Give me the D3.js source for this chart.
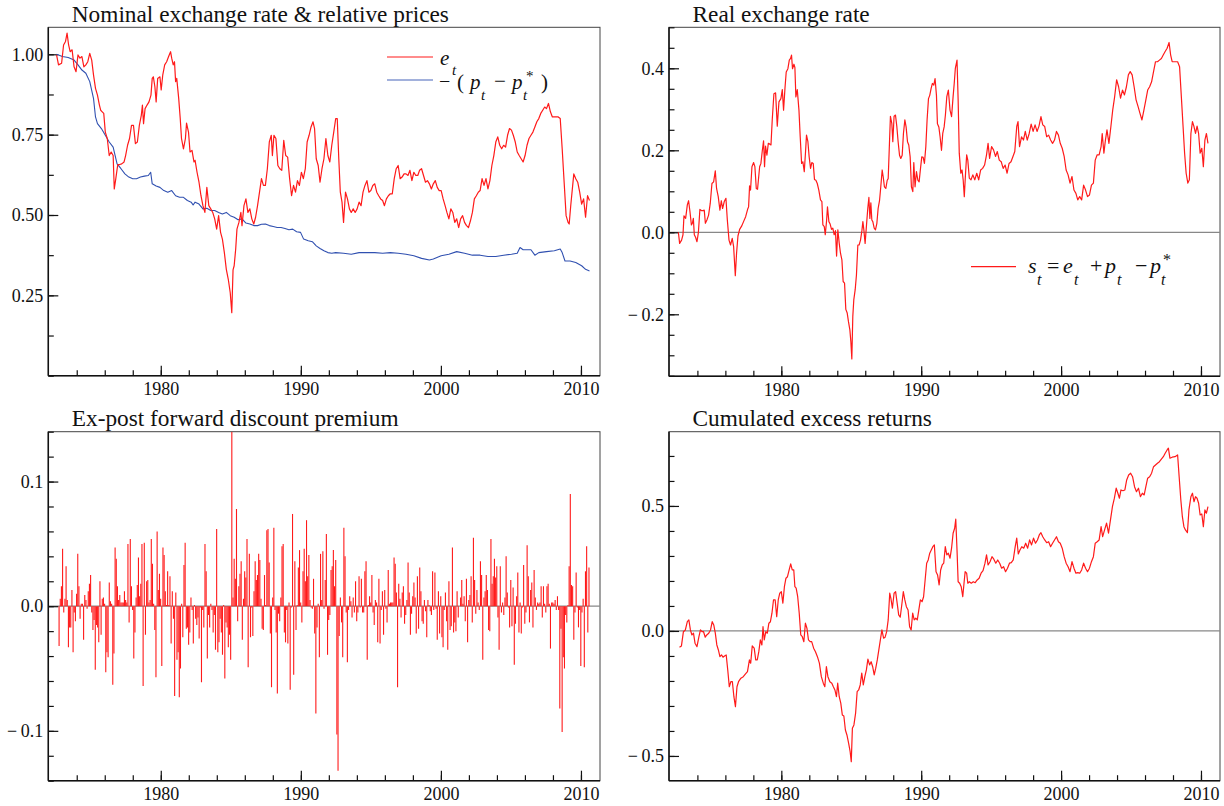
<!DOCTYPE html>
<html>
<head>
<meta charset="utf-8">
<script src="https://cdn.jsdelivr.net/npm/d3@7"></script>
<style>
  body { margin: 0; background: #fff; }
  text { font-family: "Liberation Serif", "Times New Roman", serif; fill: #111; }
</style>
</head>
<body>
<script>
// nominal exchange rate e_t  [year, value]
var nominalRate = [[1972.56,0.998],[1972.70,0.967],[1972.92,0.972],[1973.06,1.029],[1973.20,1.040],[1973.31,1.066],[1973.42,1.029],[1973.53,1.008],[1973.67,1.014],[1973.81,0.961],[1973.95,0.946],[1974.09,0.998],[1974.23,0.988],[1974.37,0.993],[1974.51,0.961],[1974.65,0.967],[1974.79,0.977],[1974.93,1.003],[1975.07,0.982],[1975.20,0.935],[1975.34,0.894],[1975.48,0.873],[1975.62,0.842],[1975.71,0.826],[1975.82,0.821],[1975.93,0.816],[1976.04,0.758],[1976.18,0.738],[1976.32,0.685],[1976.46,0.696],[1976.60,0.685],[1976.68,0.581],[1976.79,0.613],[1976.93,0.657],[1977.07,0.657],[1977.21,0.659],[1977.38,0.665],[1977.49,0.685],[1977.63,0.717],[1977.77,0.738],[1977.91,0.779],[1978.05,0.779],[1978.19,0.722],[1978.33,0.727],[1978.47,0.779],[1978.61,0.810],[1978.69,0.842],[1978.77,0.784],[1978.88,0.831],[1979.02,0.842],[1979.16,0.852],[1979.30,0.873],[1979.39,0.925],[1979.47,0.930],[1979.58,0.899],[1979.67,0.852],[1979.78,0.925],[1979.94,0.930],[1980.03,0.889],[1980.14,0.935],[1980.28,0.967],[1980.42,0.977],[1980.56,0.993],[1980.70,1.008],[1980.78,0.988],[1980.89,0.967],[1980.98,0.977],[1981.06,0.915],[1981.14,0.925],[1981.28,0.863],[1981.39,0.800],[1981.48,0.738],[1981.62,0.706],[1981.76,0.738],[1981.84,0.786],[1981.98,0.758],[1982.09,0.696],[1982.23,0.701],[1982.37,0.665],[1982.45,0.670],[1982.59,0.633],[1982.73,0.602],[1982.87,0.560],[1983.01,0.529],[1983.15,0.508],[1983.29,0.586],[1983.43,0.529],[1983.57,0.519],[1983.71,0.508],[1983.85,0.488],[1983.99,0.456],[1984.13,0.498],[1984.27,0.446],[1984.40,0.425],[1984.54,0.383],[1984.68,0.331],[1984.82,0.300],[1984.96,0.258],[1985.07,0.196],[1985.16,0.329],[1985.24,0.342],[1985.35,0.394],[1985.44,0.456],[1985.58,0.477],[1985.72,0.508],[1985.80,0.467],[1985.94,0.529],[1986.08,0.550],[1986.22,0.508],[1986.36,0.519],[1986.50,0.488],[1986.64,0.472],[1986.77,0.493],[1986.91,0.529],[1987.05,0.571],[1987.19,0.613],[1987.33,0.592],[1987.47,0.592],[1987.61,0.644],[1987.75,0.727],[1987.89,0.748],[1987.97,0.685],[1988.08,0.748],[1988.22,0.738],[1988.36,0.654],[1988.50,0.644],[1988.64,0.639],[1988.78,0.732],[1988.92,0.685],[1989.06,0.680],[1989.20,0.613],[1989.34,0.560],[1989.48,0.592],[1989.62,0.571],[1989.76,0.607],[1989.90,0.592],[1990.04,0.633],[1990.18,0.613],[1990.32,0.644],[1990.45,0.727],[1990.59,0.748],[1990.73,0.774],[1990.87,0.790],[1990.98,0.769],[1991.10,0.675],[1991.24,0.654],[1991.37,0.602],[1991.51,0.644],[1991.65,0.675],[1991.79,0.738],[1991.93,0.685],[1992.07,0.665],[1992.21,0.717],[1992.35,0.758],[1992.49,0.800],[1992.60,0.800],[1992.71,0.675],[1992.82,0.571],[1992.94,0.540],[1993.05,0.477],[1993.19,0.571],[1993.33,0.550],[1993.47,0.519],[1993.60,0.508],[1993.74,0.519],[1993.88,0.508],[1994.02,0.519],[1994.16,0.540],[1994.30,0.529],[1994.44,0.571],[1994.58,0.592],[1994.72,0.607],[1994.86,0.571],[1995.00,0.576],[1995.14,0.592],[1995.28,0.597],[1995.42,0.571],[1995.56,0.560],[1995.70,0.550],[1995.84,0.545],[1995.97,0.529],[1996.11,0.550],[1996.25,0.560],[1996.39,0.566],[1996.53,0.566],[1996.67,0.613],[1996.81,0.644],[1996.95,0.654],[1997.09,0.613],[1997.23,0.618],[1997.37,0.628],[1997.51,0.628],[1997.65,0.623],[1997.79,0.639],[1997.93,0.607],[1998.07,0.633],[1998.21,0.623],[1998.35,0.623],[1998.48,0.639],[1998.62,0.644],[1998.76,0.623],[1998.90,0.602],[1999.04,0.607],[1999.18,0.597],[1999.32,0.581],[1999.46,0.597],[1999.60,0.607],[1999.74,0.586],[1999.88,0.576],[2000.02,0.576],[2000.16,0.550],[2000.30,0.529],[2000.43,0.508],[2000.57,0.488],[2000.71,0.519],[2000.85,0.508],[2000.99,0.477],[2001.13,0.488],[2001.27,0.461],[2001.41,0.488],[2001.55,0.498],[2001.69,0.477],[2001.83,0.467],[2001.97,0.461],[2002.11,0.482],[2002.25,0.508],[2002.39,0.550],[2002.53,0.560],[2002.67,0.571],[2002.80,0.576],[2002.94,0.613],[2003.08,0.592],[2003.22,0.613],[2003.36,0.581],[2003.50,0.607],[2003.64,0.654],[2003.78,0.685],[2003.92,0.727],[2004.06,0.743],[2004.20,0.717],[2004.34,0.706],[2004.48,0.717],[2004.62,0.711],[2004.76,0.748],[2004.90,0.769],[2005.04,0.764],[2005.17,0.748],[2005.31,0.727],[2005.45,0.696],[2005.59,0.685],[2005.73,0.675],[2005.87,0.665],[2006.01,0.685],[2006.15,0.717],[2006.29,0.738],[2006.43,0.748],[2006.57,0.758],[2006.71,0.774],[2006.85,0.790],[2006.99,0.800],[2007.13,0.816],[2007.27,0.826],[2007.41,0.836],[2007.54,0.831],[2007.68,0.847],[2007.82,0.821],[2007.96,0.805],[2008.10,0.805],[2008.24,0.805],[2008.38,0.805],[2008.52,0.800],[2008.66,0.706],[2008.80,0.602],[2008.94,0.498],[2009.08,0.477],[2009.16,0.472],[2009.27,0.529],[2009.41,0.592],[2009.49,0.628],[2009.63,0.613],[2009.77,0.602],[2009.91,0.571],[2010.05,0.534],[2010.19,0.550],[2010.33,0.493],[2010.47,0.560],[2010.61,0.545]];

// -(p_t - p_t*)  [year, value]
var relPrices = [[1972.56,1.000],[1972.97,0.993],[1973.39,0.990],[1973.81,0.982],[1974.09,0.967],[1974.37,0.951],[1974.65,0.941],[1974.93,0.915],[1975.20,0.862],[1975.34,0.805],[1975.48,0.784],[1975.76,0.769],[1976.04,0.748],[1976.32,0.727],[1976.60,0.711],[1976.88,0.659],[1977.16,0.644],[1977.44,0.628],[1977.72,0.618],[1978.00,0.613],[1978.27,0.613],[1978.55,0.618],[1978.83,0.621],[1979.11,0.623],[1979.28,0.633],[1979.39,0.597],[1979.67,0.590],[1979.94,0.586],[1980.22,0.576],[1980.50,0.571],[1980.78,0.576],[1981.06,0.560],[1981.34,0.555],[1981.62,0.555],[1981.90,0.545],[1982.17,0.540],[1982.31,0.531],[1982.45,0.540],[1982.73,0.534],[1983.01,0.519],[1983.29,0.521],[1983.57,0.514],[1983.85,0.514],[1984.13,0.508],[1984.40,0.503],[1984.68,0.508],[1984.96,0.498],[1985.24,0.493],[1985.52,0.485],[1985.80,0.488],[1986.08,0.475],[1986.36,0.472],[1986.64,0.467],[1986.91,0.467],[1987.19,0.471],[1987.47,0.472],[1987.75,0.467],[1988.03,0.464],[1988.31,0.461],[1988.59,0.461],[1988.87,0.458],[1989.15,0.454],[1989.42,0.456],[1989.70,0.448],[1989.98,0.446],[1990.20,0.425],[1990.53,0.420],[1990.82,0.417],[1991.10,0.404],[1991.37,0.396],[1991.65,0.389],[1991.93,0.383],[1992.21,0.381],[1992.49,0.383],[1993.05,0.381],[1993.60,0.378],[1994.16,0.383],[1994.72,0.383],[1995.28,0.383],[1995.84,0.381],[1996.39,0.383],[1996.95,0.381],[1997.51,0.378],[1998.07,0.373],[1998.62,0.365],[1999.18,0.360],[1999.46,0.363],[2000.02,0.373],[2000.57,0.378],[2001.13,0.386],[2001.69,0.381],[2002.25,0.375],[2002.80,0.375],[2003.36,0.371],[2003.92,0.371],[2004.48,0.375],[2005.04,0.378],[2005.45,0.381],[2005.65,0.399],[2005.87,0.392],[2006.43,0.392],[2006.71,0.375],[2006.99,0.383],[2007.54,0.386],[2008.10,0.389],[2008.52,0.394],[2008.66,0.383],[2008.86,0.357],[2009.22,0.357],[2009.63,0.352],[2010.05,0.342],[2010.33,0.331],[2010.61,0.326]];

// real exchange rate s_t  [year, value]
var realRate = [[1972.64,0.000],[1972.73,-0.027],[1972.87,-0.019],[1972.97,-0.006],[1973.04,0.040],[1973.16,0.034],[1973.28,0.067],[1973.37,0.077],[1973.47,0.050],[1973.57,0.018],[1973.64,0.022],[1973.71,0.034],[1973.78,-0.006],[1973.87,-0.012],[1973.97,-0.023],[1974.07,-0.001],[1974.18,0.056],[1974.28,0.053],[1974.40,0.053],[1974.49,0.054],[1974.57,0.022],[1974.68,0.030],[1974.80,0.042],[1974.92,0.071],[1975.04,0.119],[1975.16,0.123],[1975.28,0.150],[1975.37,0.107],[1975.49,0.087],[1975.61,0.054],[1975.71,0.077],[1975.80,0.058],[1975.92,0.075],[1976.04,0.083],[1976.14,0.030],[1976.26,-0.019],[1976.37,-0.031],[1976.49,-0.015],[1976.59,-0.035],[1976.71,-0.106],[1976.80,-0.051],[1976.90,-0.009],[1977.02,0.007],[1977.16,0.015],[1977.30,0.026],[1977.45,0.038],[1977.59,0.056],[1977.66,0.062],[1977.73,0.113],[1977.80,0.103],[1977.90,0.160],[1978.02,0.170],[1978.11,0.160],[1978.21,0.107],[1978.30,0.105],[1978.45,0.160],[1978.54,0.168],[1978.64,0.199],[1978.73,0.223],[1978.80,0.160],[1978.87,0.210],[1978.97,0.188],[1979.07,0.217],[1979.18,0.215],[1979.26,0.213],[1979.35,0.274],[1979.47,0.338],[1979.59,0.340],[1979.71,0.259],[1979.83,0.318],[1979.97,0.326],[1980.07,0.348],[1980.16,0.298],[1980.26,0.351],[1980.35,0.391],[1980.47,0.399],[1980.57,0.420],[1980.66,0.424],[1980.73,0.432],[1980.80,0.399],[1980.90,0.410],[1980.97,0.402],[1981.04,0.330],[1981.14,0.348],[1981.26,0.298],[1981.35,0.233],[1981.45,0.168],[1981.54,0.172],[1981.64,0.148],[1981.73,0.196],[1981.80,0.237],[1981.90,0.221],[1981.99,0.184],[1982.09,0.156],[1982.18,0.170],[1982.28,0.168],[1982.37,0.129],[1982.47,0.127],[1982.57,0.119],[1982.68,0.103],[1982.80,0.079],[1982.90,0.075],[1982.97,0.018],[1983.07,0.014],[1983.14,-0.006],[1983.23,0.026],[1983.30,0.062],[1983.40,0.026],[1983.49,0.020],[1983.59,0.007],[1983.68,0.010],[1983.78,-0.006],[1983.87,0.004],[1983.95,-0.058],[1984.04,0.006],[1984.14,-0.027],[1984.23,-0.051],[1984.33,-0.067],[1984.42,-0.120],[1984.52,-0.124],[1984.61,-0.188],[1984.71,-0.197],[1984.80,-0.218],[1984.90,-0.238],[1984.97,-0.266],[1985.04,-0.309],[1985.11,-0.205],[1985.18,-0.165],[1985.28,-0.140],[1985.37,-0.104],[1985.47,-0.031],[1985.56,-0.031],[1985.66,-0.019],[1985.76,0.004],[1985.83,0.026],[1985.90,0.006],[1985.99,-0.027],[1986.09,0.018],[1986.18,0.058],[1986.26,0.085],[1986.33,0.034],[1986.40,0.072],[1986.47,0.030],[1986.54,0.026],[1986.64,0.010],[1986.73,0.006],[1986.83,0.022],[1986.92,0.058],[1987.02,0.077],[1987.11,0.111],[1987.21,0.152],[1987.28,0.136],[1987.37,0.111],[1987.47,0.107],[1987.57,0.127],[1987.64,0.131],[1987.73,0.217],[1987.80,0.283],[1987.90,0.265],[1987.97,0.221],[1988.06,0.283],[1988.16,0.286],[1988.26,0.257],[1988.35,0.221],[1988.45,0.188],[1988.54,0.180],[1988.64,0.188],[1988.73,0.241],[1988.83,0.274],[1988.92,0.257],[1989.02,0.221],[1989.11,0.213],[1989.21,0.184],[1989.30,0.111],[1989.40,0.099],[1989.47,0.170],[1989.56,0.111],[1989.66,0.148],[1989.76,0.127],[1989.85,0.123],[1989.95,0.156],[1990.04,0.184],[1990.14,0.183],[1990.23,0.168],[1990.33,0.209],[1990.42,0.274],[1990.52,0.326],[1990.61,0.334],[1990.71,0.351],[1990.80,0.363],[1990.90,0.359],[1990.99,0.375],[1991.09,0.334],[1991.16,0.265],[1991.26,0.257],[1991.35,0.233],[1991.45,0.200],[1991.54,0.241],[1991.64,0.257],[1991.73,0.286],[1991.83,0.331],[1991.94,0.347],[1992.06,0.298],[1992.17,0.282],[1992.28,0.331],[1992.36,0.363],[1992.44,0.400],[1992.56,0.420],[1992.64,0.323],[1992.72,0.193],[1992.83,0.144],[1992.92,0.152],[1993.00,0.128],[1993.08,0.087],[1993.17,0.144],[1993.25,0.189],[1993.33,0.176],[1993.44,0.132],[1993.56,0.128],[1993.69,0.140],[1993.83,0.128],[1993.97,0.144],[1994.11,0.128],[1994.25,0.152],[1994.39,0.156],[1994.53,0.164],[1994.67,0.189],[1994.78,0.217],[1994.89,0.180],[1995.03,0.209],[1995.17,0.201],[1995.31,0.185],[1995.44,0.197],[1995.58,0.176],[1995.72,0.172],[1995.86,0.156],[1996.00,0.164],[1996.14,0.144],[1996.28,0.168],[1996.42,0.172],[1996.56,0.185],[1996.69,0.197],[1996.83,0.258],[1996.92,0.270],[1997.03,0.209],[1997.17,0.233],[1997.31,0.225],[1997.44,0.246],[1997.58,0.225],[1997.72,0.241],[1997.86,0.264],[1998.00,0.246],[1998.14,0.262],[1998.28,0.246],[1998.42,0.259],[1998.56,0.282],[1998.69,0.262],[1998.83,0.258],[1998.97,0.233],[1999.11,0.237],[1999.25,0.225],[1999.39,0.217],[1999.53,0.225],[1999.67,0.246],[1999.81,0.237],[1999.94,0.217],[2000.08,0.205],[2000.22,0.185],[2000.36,0.152],[2000.50,0.140],[2000.64,0.120],[2000.78,0.136],[2000.92,0.103],[2001.06,0.095],[2001.19,0.079],[2001.33,0.087],[2001.47,0.079],[2001.61,0.115],[2001.75,0.103],[2001.89,0.087],[2002.03,0.091],[2002.17,0.115],[2002.31,0.120],[2002.44,0.176],[2002.58,0.189],[2002.72,0.189],[2002.86,0.209],[2002.94,0.241],[2003.06,0.193],[2003.17,0.225],[2003.28,0.250],[2003.42,0.217],[2003.56,0.258],[2003.69,0.298],[2003.83,0.331],[2003.97,0.372],[2004.11,0.355],[2004.25,0.327],[2004.39,0.347],[2004.53,0.335],[2004.67,0.355],[2004.81,0.384],[2004.94,0.392],[2005.08,0.384],[2005.22,0.355],[2005.36,0.323],[2005.50,0.307],[2005.64,0.290],[2005.78,0.274],[2005.92,0.298],[2006.06,0.323],[2006.19,0.347],[2006.33,0.355],[2006.47,0.367],[2006.61,0.392],[2006.75,0.416],[2006.89,0.416],[2007.03,0.420],[2007.17,0.424],[2007.31,0.433],[2007.44,0.441],[2007.58,0.449],[2007.72,0.463],[2007.83,0.433],[2007.94,0.416],[2008.14,0.416],[2008.33,0.416],[2008.47,0.404],[2008.61,0.323],[2008.72,0.258],[2008.83,0.193],[2008.94,0.144],[2009.06,0.120],[2009.17,0.128],[2009.28,0.241],[2009.39,0.270],[2009.50,0.258],[2009.61,0.241],[2009.72,0.259],[2009.83,0.241],[2009.94,0.193],[2010.06,0.205],[2010.17,0.160],[2010.28,0.225],[2010.39,0.241],[2010.50,0.217]];

// ex-post forward discount premium, one value per month
var premiumStart = 1972.74;
var premium = [-0.032,0.006,0.016,0.046,-0.005,0.006,0.032,0.005,-0.033,-0.017,
-0.017,0.013,-0.037,-0.005,-0.012,0.010,0.042,0.016,-0.010,0.002,
0.002,-0.027,0.009,0.005,-0.002,0.012,0.018,0.025,-0.005,-0.019,
-0.011,-0.051,-0.015,-0.017,-0.029,0.020,-0.023,0.006,0.007,0.002,
-0.053,-0.037,-0.041,0.019,0.004,0.002,-0.063,-0.038,0.047,0.038,
0.016,0.005,0.009,0.003,0.003,0.003,0.012,0.005,0.003,0.050,
-0.013,0.054,0.016,-0.003,-0.042,-0.021,0.007,0.017,0.039,0.008,
0.018,0.050,-0.064,0.051,-0.023,0.020,0.021,0.003,0.005,0.054,
0.034,0.002,-0.019,-0.057,0.060,0.013,0.026,0.006,-0.048,0.047,
0.041,0.012,0.001,0.028,0.001,0.024,-0.030,0.012,-0.010,-0.072,
0.011,-0.043,-0.037,-0.073,-0.050,0.002,-0.025,0.033,0.051,-0.018,
-0.017,-0.031,-0.021,0.007,-0.003,-0.030,0.001,-0.010,-0.015,-0.009,
-0.026,-0.001,-0.061,-0.003,-0.017,0.050,0.028,-0.042,-0.007,-0.017,
0.002,-0.003,-0.021,-0.007,-0.035,0.062,-0.037,-0.029,-0.010,-0.021,
-0.039,0.001,-0.058,-0.013,-0.017,-0.033,-0.023,-0.043,0.140,0.007,
0.038,0.022,0.078,-0.012,0.016,0.026,0.036,-0.027,0.006,0.028,
0.023,0.054,-0.049,0.042,-0.025,-0.001,-0.024,0.012,0.036,0.021,
0.025,0.042,0.037,0.006,-0.018,-0.019,0.025,0.001,0.061,0.062,
0.035,-0.022,-0.065,0.007,0.063,-0.003,-0.021,-0.070,-0.006,-0.012,
0.007,0.048,0.050,-0.021,-0.029,-0.003,-0.030,0.003,-0.067,-0.001,
0.074,-0.055,0.036,-0.019,0.001,0.031,0.045,0.003,-0.013,0.028,
0.046,0.020,0.069,0.024,0.041,0.005,-0.001,-0.002,0.022,-0.022,
-0.086,-0.017,0.002,-0.041,0.042,0.005,0.044,-0.002,0.021,0.058,
-0.039,-0.011,-0.007,0.029,0.032,0.045,0.016,0.037,-0.103,-0.132,
-0.024,0.007,-0.013,-0.041,0.063,0.040,-0.005,-0.045,-0.003,0.008,
0.004,-0.009,0.007,-0.005,0.020,-0.012,-0.005,0.024,-0.001,0.022,
-0.005,-0.005,0.028,0.036,-0.043,0.001,0.008,0.003,0.025,-0.005,
-0.015,0.005,0.003,-0.029,0.022,-0.030,-0.003,0.012,-0.023,0.013,
-0.002,-0.013,0.029,0.002,0.003,0.003,0.003,0.039,0.034,0.011,
-0.065,0.018,0.006,-0.009,0.011,0.016,-0.014,-0.007,0.005,0.035,
0.011,-0.023,-0.006,0.008,0.019,0.007,-0.022,0.024,-0.018,0.031,
0.012,-0.012,-0.014,0.005,-0.004,-0.025,0.005,0.001,-0.004,-0.007,
0.028,-0.003,0.027,-0.002,-0.027,0.012,-0.022,0.008,-0.025,-0.033,
-0.003,0.011,-0.012,-0.035,0.020,-0.019,-0.016,0.047,-0.021,-0.013,
-0.020,0.012,-0.009,0.000,0.007,0.021,0.002,0.008,-0.012,0.022,
-0.029,0.005,0.009,0.024,-0.013,0.055,0.021,-0.006,0.013,0.003,
-0.003,0.036,0.025,-0.043,0.007,0.012,0.025,0.013,-0.019,-0.020,
0.054,0.018,0.024,0.038,0.023,0.032,-0.009,-0.035,0.032,-0.005,
0.003,-0.007,0.007,0.040,0.011,-0.001,-0.017,0.021,-0.016,0.015,
-0.047,-0.014,0.008,0.027,-0.021,0.003,-0.022,-0.001,0.033,-0.014,
-0.005,0.049,0.024,-0.013,0.013,0.019,-0.017,0.029,0.007,-0.003,
0.003,0.002,0.003,0.016,-0.009,0.016,0.002,-0.005,0.016,0.018,
0.002,-0.034,0.003,0.003,0.002,0.005,-0.003,0.008,-0.003,-0.082,
-0.018,-0.101,-0.041,-0.050,-0.007,-0.013,0.001,0.032,0.090,0.017,
0.016,-0.027,-0.005,0.027,-0.001,-0.017,-0.003,-0.048,-0.005,0.006,
-0.049,0.028,0.048,-0.021,0.031];

// cumulated excess returns  [year, value]
var cumReturns = [[1972.72,-0.065],[1972.86,-0.060],[1973.00,-0.003],[1973.14,0.004],[1973.28,0.037],[1973.39,0.044],[1973.50,0.004],[1973.61,-0.016],[1973.72,-0.009],[1973.83,-0.049],[1973.97,-0.063],[1974.11,-0.023],[1974.22,0.004],[1974.33,-0.003],[1974.44,-0.003],[1974.56,-0.025],[1974.67,-0.016],[1974.81,-0.009],[1974.94,0.004],[1975.06,0.037],[1975.17,0.024],[1975.28,-0.009],[1975.39,-0.056],[1975.50,-0.076],[1975.61,-0.103],[1975.72,-0.096],[1975.83,-0.105],[1975.94,-0.100],[1976.06,-0.096],[1976.17,-0.156],[1976.28,-0.223],[1976.39,-0.203],[1976.50,-0.203],[1976.61,-0.263],[1976.72,-0.303],[1976.83,-0.223],[1976.94,-0.203],[1977.11,-0.189],[1977.28,-0.183],[1977.44,-0.172],[1977.58,-0.163],[1977.72,-0.116],[1977.81,-0.129],[1977.92,-0.060],[1978.06,-0.069],[1978.17,-0.116],[1978.28,-0.116],[1978.39,-0.083],[1978.50,-0.036],[1978.61,-0.056],[1978.69,0.017],[1978.78,-0.036],[1978.89,-0.003],[1979.00,-0.009],[1979.11,0.031],[1979.22,0.037],[1979.33,0.071],[1979.44,0.124],[1979.56,0.124],[1979.67,0.057],[1979.78,0.124],[1979.89,0.151],[1980.00,0.157],[1980.11,0.111],[1980.22,0.177],[1980.33,0.211],[1980.44,0.217],[1980.56,0.244],[1980.67,0.268],[1980.78,0.244],[1980.89,0.244],[1980.97,0.177],[1981.06,0.171],[1981.17,0.137],[1981.28,0.071],[1981.39,-0.016],[1981.50,-0.023],[1981.61,-0.043],[1981.72,0.031],[1981.83,0.011],[1981.94,-0.036],[1982.06,-0.043],[1982.17,-0.043],[1982.31,-0.069],[1982.44,-0.083],[1982.58,-0.103],[1982.72,-0.129],[1982.86,-0.183],[1983.00,-0.209],[1983.11,-0.223],[1983.22,-0.143],[1983.33,-0.183],[1983.47,-0.203],[1983.61,-0.209],[1983.72,-0.223],[1983.83,-0.236],[1983.94,-0.263],[1984.03,-0.209],[1984.14,-0.263],[1984.25,-0.289],[1984.36,-0.336],[1984.47,-0.340],[1984.58,-0.396],[1984.69,-0.416],[1984.81,-0.449],[1984.92,-0.483],[1985.00,-0.523],[1985.08,-0.389],[1985.19,-0.376],[1985.31,-0.329],[1985.42,-0.243],[1985.53,-0.236],[1985.64,-0.216],[1985.75,-0.169],[1985.86,-0.216],[1985.97,-0.183],[1986.08,-0.156],[1986.19,-0.113],[1986.31,-0.136],[1986.42,-0.123],[1986.53,-0.143],[1986.64,-0.176],[1986.75,-0.149],[1986.86,-0.116],[1986.97,-0.076],[1987.08,-0.036],[1987.19,0.004],[1987.31,-0.029],[1987.42,-0.025],[1987.53,-0.003],[1987.64,0.044],[1987.75,0.151],[1987.83,0.131],[1987.94,0.091],[1988.06,0.151],[1988.17,0.157],[1988.28,0.111],[1988.39,0.064],[1988.50,0.055],[1988.61,0.104],[1988.72,0.157],[1988.83,0.124],[1988.94,0.097],[1989.06,0.084],[1989.17,0.017],[1989.28,0.004],[1989.39,0.071],[1989.50,0.044],[1989.61,0.051],[1989.72,0.044],[1989.83,0.084],[1989.94,0.124],[1990.06,0.117],[1990.17,0.137],[1990.28,0.204],[1990.39,0.271],[1990.50,0.284],[1990.61,0.311],[1990.72,0.324],[1990.83,0.337],[1990.94,0.344],[1991.06,0.237],[1991.17,0.224],[1991.28,0.184],[1991.39,0.244],[1991.50,0.264],[1991.61,0.271],[1991.72,0.337],[1991.83,0.304],[1991.94,0.311],[1992.06,0.291],[1992.17,0.331],[1992.28,0.391],[1992.39,0.411],[1992.47,0.447],[1992.56,0.324],[1992.64,0.197],[1992.75,0.191],[1992.86,0.177],[1992.97,0.137],[1993.06,0.191],[1993.14,0.237],[1993.25,0.231],[1993.33,0.191],[1993.44,0.197],[1993.58,0.191],[1993.72,0.197],[1993.86,0.193],[1994.00,0.204],[1994.14,0.211],[1994.28,0.231],[1994.42,0.241],[1994.56,0.271],[1994.67,0.304],[1994.78,0.264],[1994.92,0.277],[1995.06,0.297],[1995.19,0.287],[1995.33,0.271],[1995.47,0.284],[1995.61,0.271],[1995.75,0.251],[1995.89,0.257],[1996.03,0.237],[1996.17,0.251],[1996.31,0.271],[1996.44,0.273],[1996.58,0.284],[1996.72,0.337],[1996.83,0.371],[1996.94,0.308],[1997.06,0.324],[1997.19,0.337],[1997.33,0.331],[1997.47,0.351],[1997.61,0.331],[1997.75,0.364],[1997.89,0.344],[1998.03,0.371],[1998.17,0.351],[1998.31,0.364],[1998.44,0.384],[1998.56,0.393],[1998.69,0.377],[1998.83,0.364],[1998.97,0.353],[1999.11,0.357],[1999.25,0.337],[1999.39,0.351],[1999.53,0.364],[1999.67,0.377],[1999.81,0.357],[1999.94,0.351],[2000.08,0.331],[2000.22,0.297],[2000.36,0.271],[2000.50,0.257],[2000.64,0.237],[2000.78,0.277],[2000.92,0.251],[2001.06,0.231],[2001.19,0.233],[2001.33,0.231],[2001.47,0.244],[2001.61,0.271],[2001.75,0.251],[2001.89,0.237],[2002.03,0.251],[2002.17,0.277],[2002.31,0.297],[2002.44,0.351],[2002.58,0.357],[2002.72,0.364],[2002.86,0.417],[2002.97,0.377],[2003.11,0.404],[2003.25,0.431],[2003.39,0.391],[2003.53,0.444],[2003.67,0.497],[2003.81,0.531],[2003.94,0.571],[2004.06,0.551],[2004.17,0.531],[2004.28,0.564],[2004.42,0.561],[2004.56,0.564],[2004.69,0.604],[2004.83,0.624],[2004.97,0.631],[2005.11,0.617],[2005.25,0.577],[2005.39,0.557],[2005.53,0.571],[2005.67,0.537],[2005.81,0.551],[2005.94,0.544],[2006.06,0.577],[2006.19,0.611],[2006.33,0.617],[2006.47,0.631],[2006.61,0.657],[2006.75,0.664],[2006.89,0.671],[2007.03,0.677],[2007.17,0.687],[2007.31,0.697],[2007.44,0.711],[2007.58,0.724],[2007.67,0.731],[2007.78,0.691],[2007.94,0.695],[2008.14,0.697],[2008.33,0.704],[2008.44,0.617],[2008.56,0.524],[2008.67,0.457],[2008.78,0.417],[2008.89,0.404],[2009.03,0.393],[2009.14,0.484],[2009.28,0.537],[2009.39,0.551],[2009.50,0.517],[2009.61,0.537],[2009.72,0.531],[2009.83,0.511],[2009.94,0.464],[2010.06,0.468],[2010.17,0.417],[2010.28,0.484],[2010.39,0.471],[2010.50,0.497]];

var yearTicks = [1980, 1990, 2000, 2010];
var yearMinorTicks = d3.range(1974, 2011, 2);

var W = 1224, H = 806;
var RED = "#ff1a1a", BLUE = "#3050b0";
var SERIF = "'Liberation Serif','Times New Roman',serif";
var svg = d3.select("body").append("svg").attr("width", W).attr("height", H);

var yearDomain = [1971.97, 2011.36];

function minusFmt(decimals) {
  return function(v) {
    var s = Math.abs(v).toFixed(decimals);
    return v < -1e-9 ? "\u2212\u2009" + s : s;
  };
}

function stepTicks(lo, hi, step) {
  return d3.range(Math.ceil(lo / step - 1e-6), Math.floor(hi / step + 1e-6) + 1)
    .map(function(k) { return +(k * step).toFixed(5); });
}

function makePanel(id, box, yDomain, yMajor, yMinorStep, fmt, title, zeroLine) {
  var g = svg.append("g");
  var x = d3.scaleLinear().domain(yearDomain).range([box.left, box.right]);
  var y = d3.scaleLinear().domain(yDomain).range([box.bottom, box.top]);

  svg.append("clipPath").attr("id", "clip" + id)
    .append("rect").attr("x", box.left).attr("y", box.top)
    .attr("width", box.right - box.left).attr("height", box.bottom - box.top);

  g.append("rect")
    .attr("x", box.left).attr("y", box.top)
    .attr("width", box.right - box.left).attr("height", box.bottom - box.top)
    .attr("fill", "none").attr("stroke", "#444").attr("stroke-width", 1);

  if (zeroLine) {
    g.append("line")
      .attr("x1", box.left).attr("x2", box.right)
      .attr("y1", y(0)).attr("y2", y(0))
      .attr("stroke", "#888").attr("stroke-width", 1.3);
  }

  var axisStyle = function(a) {
    a.select(".domain").remove();
    a.attr("font-family", SERIF).attr("font-size", 18);
    a.selectAll("line").attr("stroke", "#111").attr("stroke-width", 1.2);
    a.selectAll("text").attr("fill", "#111");
  };

  g.append("g").attr("transform", "translate(" + box.left + ",0)")
    .call(d3.axisLeft(y).tickValues(stepTicks(yDomain[0], yDomain[1], yMinorStep)).tickSize(-5.5).tickFormat(""))
    .call(axisStyle);
  g.append("g").attr("transform", "translate(" + box.left + ",0)")
    .call(d3.axisLeft(y).tickValues(yMajor).tickSize(-10).tickPadding(5).tickFormat(fmt))
    .call(axisStyle);

  g.append("g").attr("transform", "translate(0," + box.bottom + ")")
    .call(d3.axisBottom(x).tickValues(yearMinorTicks).tickSize(-5.5).tickFormat(""))
    .call(axisStyle);
  g.append("g").attr("transform", "translate(0," + box.bottom + ")")
    .call(d3.axisBottom(x).tickValues(yearTicks).tickSize(-10).tickPadding(7).tickFormat(d3.format("d")))
    .call(axisStyle);

  // heavier left and bottom axis lines
  g.append("line").attr("x1", box.left).attr("x2", box.left)
    .attr("y1", box.top).attr("y2", box.bottom)
    .attr("stroke", "#111").attr("stroke-width", 1.5);
  g.append("line").attr("x1", box.left).attr("x2", box.right)
    .attr("y1", box.bottom).attr("y2", box.bottom)
    .attr("stroke", "#111").attr("stroke-width", 1.5);

  svg.append("text")
    .attr("x", box.left + 23.5).attr("y", box.top - 5.3)
    .attr("font-size", 23.3)
    .text(title);

  var plot = svg.append("g").attr("clip-path", "url(#clip" + id + ")");
  return { x: x, y: y, plot: plot };
}

function drawLine(p, data, color, width) {
  var line = d3.line().x(function(d) { return p.x(d[0]); }).y(function(d) { return p.y(d[1]); });
  p.plot.append("path").datum(data)
    .attr("d", line)
    .attr("fill", "none")
    .attr("stroke", color)
    .attr("stroke-width", width)
    .attr("stroke-linejoin", "round");
}

function glyph(txt, x, y, size, italic) {
  svg.append("text").attr("x", x).attr("y", y)
    .attr("font-size", size)
    .attr("font-style", italic ? "italic" : "normal")
    .text(txt);
}

// panel 1: nominal rate and relative prices
var p1 = makePanel(1, { left: 48.3, right: 600, top: 27.3, bottom: 375.7 },
  [0, 1.084], [0.25, 0.5, 0.75, 1.0], 0.125, minusFmt(2),
  "Nominal exchange rate & relative prices", false);
drawLine(p1, relPrices, BLUE, 1.1);
drawLine(p1, nominalRate, RED, 1.2);

// panel 2: real exchange rate
var p2 = makePanel(2, { left: 669, right: 1220, top: 27.3, bottom: 376.2 },
  [-0.351, 0.5], [-0.2, 0, 0.2, 0.4], 0.05, minusFmt(1),
  "Real exchange rate", true);
drawLine(p2, realRate, RED, 1.2);

// panel 3: ex-post forward discount premium
var p3 = makePanel(3, { left: 48.3, right: 600, top: 431.7, bottom: 780.7 },
  [-0.14, 0.14], [-0.1, 0, 0.1], 0.02, minusFmt(1),
  "Ex-post forward discount premium", true);
p3.plot.selectAll("line.bar").data(premium).join("line")
  .attr("class", "bar")
  .attr("x1", function(d, i) { return p3.x(premiumStart + i / 12); })
  .attr("x2", function(d, i) { return p3.x(premiumStart + i / 12); })
  .attr("y1", p3.y(0))
  .attr("y2", function(d) { return p3.y(d); })
  .attr("stroke", RED)
  .attr("stroke-width", 1.1);

// panel 4: cumulated excess returns
var p4 = makePanel(4, { left: 669, right: 1220, top: 431.7, bottom: 780.7 },
  [-0.599, 0.797], [-0.5, 0, 0.5], 0.1, minusFmt(1),
  "Cumulated excess returns", true);
drawLine(p4, cumReturns, RED, 1.2);

// legend, panel 1
svg.append("line").attr("x1", 387).attr("x2", 433).attr("y1", 57).attr("y2", 57)
  .attr("stroke", RED).attr("stroke-width", 1.2);
glyph("e", 440, 64.5, 21, true);
glyph("t", 452, 75, 15, true);
svg.append("line").attr("x1", 387).attr("x2", 433).attr("y1", 80).attr("y2", 80)
  .attr("stroke", BLUE).attr("stroke-width", 1.6).attr("stroke-opacity", 0.6);
glyph("\u2212", 439, 88, 20, false);
glyph("(", 457, 89, 21, false);
glyph("p", 470, 89, 21, true);
glyph("t", 481, 99.5, 15, true);
glyph("\u2212", 494, 88, 21, false);
glyph("p", 512, 89, 21, true);
glyph("t", 523, 99.5, 15, true);
glyph("*", 526, 81, 15, false);
glyph(")", 541, 89, 21, false);

// legend, panel 2
svg.append("line").attr("x1", 971).attr("x2", 1016).attr("y1", 266.7).attr("y2", 266.7)
  .attr("stroke", RED).attr("stroke-width", 1.2);
glyph("s", 1028, 273, 22, true);
glyph("t", 1037, 284.5, 16, true);
glyph("=", 1047, 273, 22, false);
glyph("e", 1063, 273, 22, true);
glyph("t", 1074, 284.5, 16, true);
glyph("+", 1090, 273, 22, false);
glyph("p", 1105, 273, 22, true);
glyph("t", 1117, 284.5, 16, true);
glyph("\u2212", 1135, 273, 22, false);
glyph("p", 1150, 273, 22, true);
glyph("t", 1161, 284.5, 16, true);
glyph("*", 1163, 265, 16, false);
</script>
</body>
</html>
